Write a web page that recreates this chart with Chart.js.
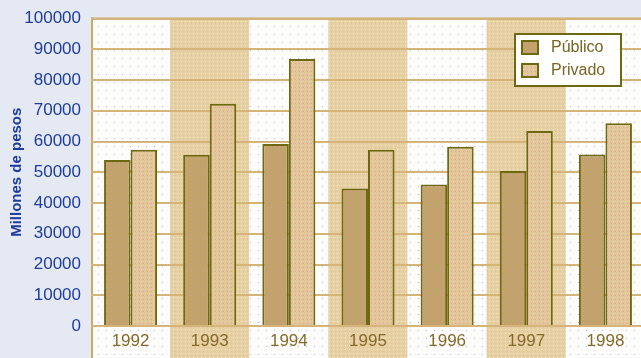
<!DOCTYPE html>
<html>
<head>
<meta charset="utf-8">
<script src="https://cdn.jsdelivr.net/npm/chart.js@4/dist/chart.umd.min.js"></script>
<style>
  html, body { margin: 0; padding: 0; background: #E4E9F4; overflow: hidden; }
  #wrap { width: 641px; height: 358px; overflow: hidden; }
</style>
</head>
<body>
<div id="wrap"><canvas id="chart" width="645" height="358"></canvas></div>
<script>
const years = ['1992', '1993', '1994', '1995', '1996', '1997', '1998'];
const publico = [54000, 55700, 59200, 44700, 46000, 50400, 55800];
const privado = [57300, 72300, 86800, 57300, 58300, 63400, 65900];
const seriesNames = ['Público', 'Privado'];

const canvas = document.getElementById('chart');
const ctx = canvas.getContext('2d');

// small dotted tiles to imitate the printed texture
function makePattern(size, bg, dots) {
  const c = document.createElement('canvas');
  c.width = c.height = size;
  const g = c.getContext('2d');
  g.fillStyle = bg;
  g.fillRect(0, 0, size, size);
  dots.forEach(([x, y, col]) => { g.fillStyle = col; g.fillRect(x, y, 1, 1); });
  return ctx.createPattern(c, 'repeat');
}

const whiteBand = makePattern(8, '#FFFFFF', [[2, 2, '#B4B4BC'], [6, 6, '#F8F4C8'], [6, 2, '#FBF8E0']]);
const tanBand = makePattern(4, '#E6CFA2', [[1, 1, '#F4EEC2'], [3, 3, '#E2C59C']]);
const pubFill = makePattern(4, '#C3A16A', [[1, 1, '#B7B072'], [3, 3, '#D0A28A']]);
const priFill = makePattern(4, '#E2C69A', [[1, 1, '#E8D8A8'], [3, 3, '#DDA898']]);
const olive = '#6E6810';

const bandsPlugin = {
  id: 'bands',
  beforeDraw(chart) {
    const { ctx, chartArea, scales } = chart;
    const x = scales.x;
    ctx.save();
    ctx.fillStyle = '#E4E9F4';
    ctx.fillRect(0, 0, chart.width, chart.height);
    const step = (chartArea.right - chartArea.left) / years.length;
    years.forEach((y, i) => {
      const cx = x.getPixelForValue(i);
      ctx.fillStyle = i % 2 === 0 ? whiteBand : tanBand;
      ctx.fillRect(cx - step / 2, chartArea.top, step, chart.height - chartArea.top);
    });
    // frame on the left and top
    ctx.fillStyle = '#C8AC62';
    ctx.fillRect(chartArea.left, chartArea.top - 1, 2, chart.height - chartArea.top + 1);
    ctx.fillRect(chartArea.left, chartArea.top - 1, chartArea.right - chartArea.left, 2);
    ctx.restore();
  }
};

const legendPlugin = {
  id: 'boxLegend',
  afterDraw(chart) {
    const { ctx } = chart;
    const bx = 514, by = 33, bw = 108, bh = 54;
    ctx.save();
    ctx.fillStyle = '#FFFFFF';
    ctx.fillRect(bx, by, bw, bh);
    ctx.strokeStyle = olive;
    ctx.lineWidth = 2;
    ctx.strokeRect(bx + 1, by + 1, bw - 2, bh - 2);
    ctx.font = '16px "Liberation Sans", Arial, sans-serif';
    ctx.textBaseline = 'middle';
    chart.data.datasets.forEach((ds, i) => {
      const sy = by + 7 + i * 23;
      ctx.fillStyle = ds.backgroundColor;
      ctx.fillRect(bx + 7, sy, 18, 15);
      ctx.strokeStyle = olive;
      ctx.lineWidth = 2;
      ctx.strokeRect(bx + 8, sy + 1, 16, 13);
      ctx.fillStyle = '#7A6420';
      ctx.fillText(ds.label, bx + 37, sy + 8);
    });
    ctx.restore();
  }
};

new Chart(ctx, {
  type: 'bar',
  data: {
    labels: years,
    datasets: [
      { label: seriesNames[0], data: publico, backgroundColor: pubFill, borderColor: olive, borderWidth: 2 },
      { label: seriesNames[1], data: privado, backgroundColor: priFill, borderColor: olive, borderWidth: 2 }
    ]
  },
  options: {
    responsive: false,
    animation: false,
    layout: { padding: { top: 17, right: 0, left: 0, bottom: 0 } },
    datasets: { bar: { categoryPercentage: 0.67, barPercentage: 1 } },
    plugins: { legend: { display: false }, tooltip: { enabled: false } },
    scales: {
      x: {
        grid: { display: false, drawTicks: false },
        border: { display: false },
        ticks: { color: '#866A2A', font: { family: '"Liberation Sans", Arial, sans-serif', size: 17 }, padding: 5 },
        afterFit(scale) { scale.height = 32; }
      },
      y: {
        min: 0,
        max: 100000,
        grid: { color: '#D4B478', lineWidth: 2, drawTicks: false },
        border: { display: false },
        ticks: {
          stepSize: 10000,
          color: '#1E3C9E',
          padding: 10,
          font: { family: '"Liberation Sans", Arial, sans-serif', size: 17, lineHeight: 1 },
          callback: v => String(v)
        },
        title: {
          display: true,
          text: 'Millones de pesos',
          color: '#1E3C9E',
          font: { family: '"Liberation Sans Narrow", "Liberation Sans", Arial, sans-serif', size: 15, weight: 'bold' },
          padding: { top: 8, bottom: 0 }
        },
        afterFit(scale) { scale.width = 91; }
      }
    }
  },
  plugins: [bandsPlugin, legendPlugin]
});
</script>
</body>
</html>
